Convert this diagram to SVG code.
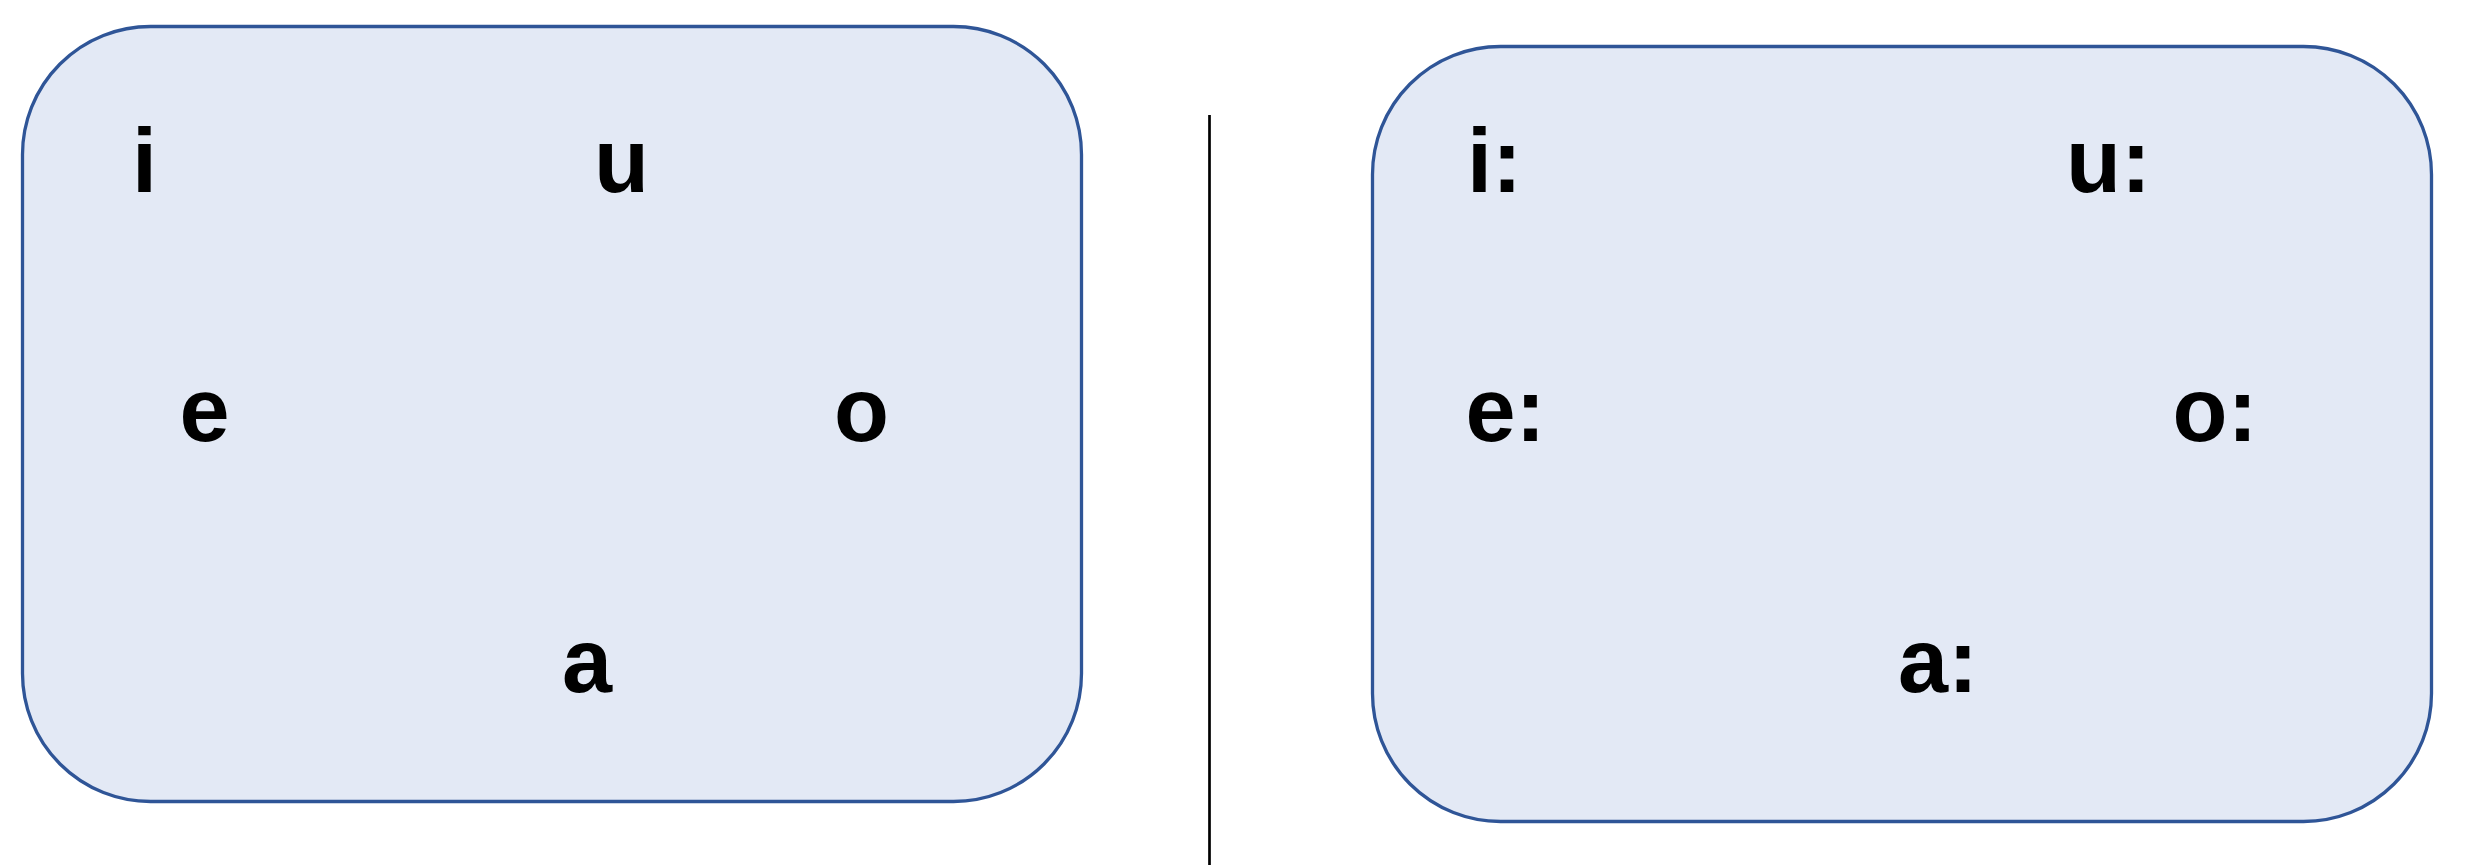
<svg xmlns="http://www.w3.org/2000/svg" width="2482" height="865" viewBox="0 0 2482 865">
<style>
.box{fill:#E3E9F5;stroke:#2F5597;stroke-width:3.3}
.lbl{font-family:"Liberation Sans",Arial,sans-serif;font-weight:bold;font-size:90px;fill:#000}
</style>
<rect width="2482" height="865" fill="#FFFFFF"/>
<g id="short-vowels">
<rect class="box" x="22.5" y="26.5" width="1059" height="775" rx="128" ry="128"/>
<text class="lbl" x="132" y="192">i</text>
<text class="lbl" x="594" y="192">u</text>
<text class="lbl" x="179.5" y="441">e</text>
<text class="lbl" x="834" y="441">o</text>
<text class="lbl" x="562" y="692">a</text>
</g>
<g id="long-vowels">
<rect class="box" x="1372.5" y="46.5" width="1059" height="775" rx="128" ry="128"/>
<text class="lbl" x="1467" y="192">i:</text>
<text class="lbl" x="2066" y="192">u:</text>
<text class="lbl" x="1465.5" y="441">e:</text>
<text class="lbl" x="2172.5" y="441">o:</text>
<text class="lbl" x="1898" y="692">a:</text>
</g>
<g id="connectors">
<line x1="1209.5" y1="115" x2="1209.5" y2="865" stroke="#000000" stroke-width="2.7"/>
</g>
</svg>
